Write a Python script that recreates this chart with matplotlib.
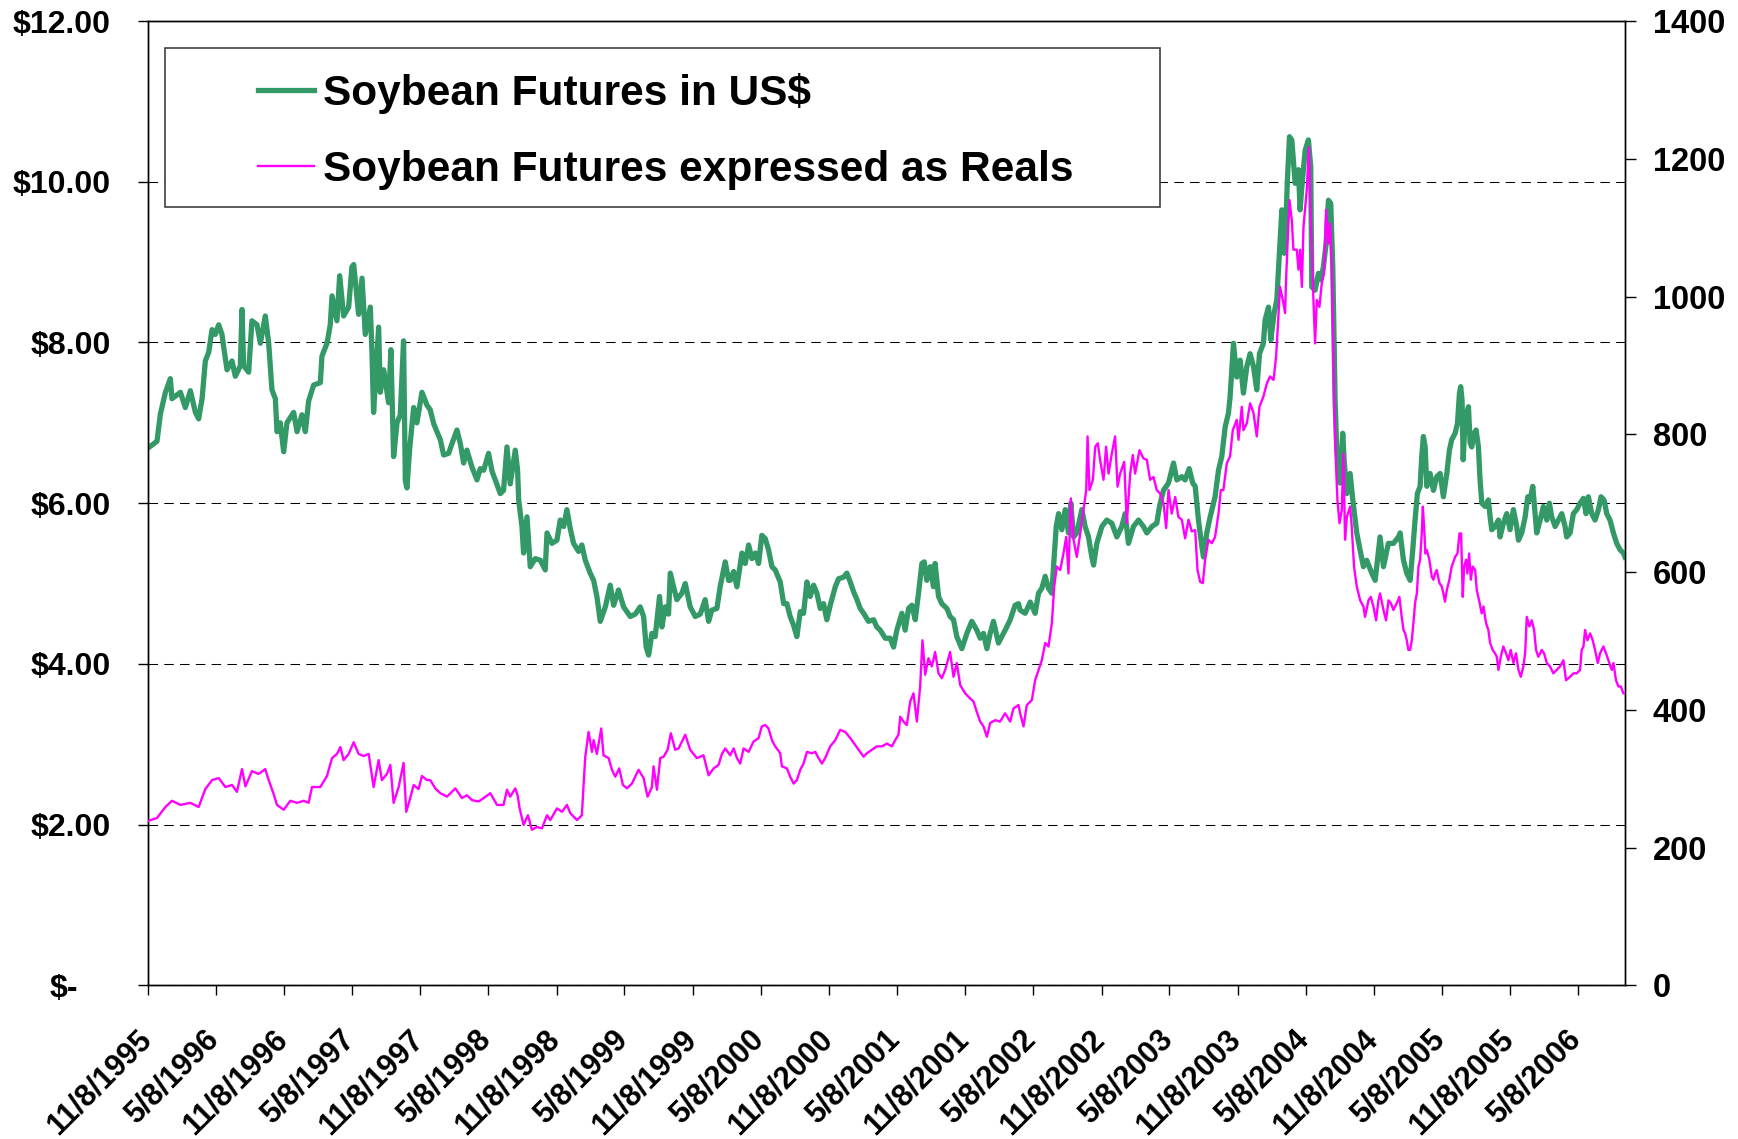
import matplotlib
matplotlib.use("Agg")
import matplotlib.pyplot as plt
from matplotlib.patches import Rectangle
from matplotlib.transforms import ScaledTranslation
from datetime import date

plt.rcParams['font.family'] = ['Liberation Sans', 'DejaVu Sans']
plt.rcParams['font.weight'] = 'bold'

# ---------------- data (decimal years) ----------------
usd_year = [
    1995.855, 1995.918, 1995.943, 1995.980, 1996.016, 1996.028, 1996.090, 1996.126, 1996.163, 1996.200,
    1996.224, 1996.249, 1996.273, 1996.298, 1996.322, 1996.346, 1996.371, 1996.395, 1996.408, 1996.432,
    1996.469, 1996.493, 1996.530, 1996.542, 1996.554, 1996.591, 1996.615, 1996.652, 1996.677, 1996.713,
    1996.738, 1996.762, 1996.787, 1996.799, 1996.823, 1996.848, 1996.872, 1996.921, 1996.946, 1996.982,
    1997.007, 1997.031, 1997.068, 1997.117, 1997.129, 1997.166, 1997.190, 1997.203, 1997.239, 1997.259,
    1997.288, 1997.325, 1997.349, 1997.362, 1997.398, 1997.423, 1997.447, 1997.484, 1997.496, 1997.508,
    1997.545, 1997.557, 1997.582, 1997.618, 1997.635, 1997.655, 1997.680, 1997.704, 1997.728, 1997.741,
    1997.753, 1997.772, 1997.802, 1997.826, 1997.863, 1997.900,
    1997.924, 1997.949, 1997.973, 1997.998, 1998.022, 1998.059, 1998.083, 1998.120, 1998.145, 1998.169,
    1998.193, 1998.230, 1998.267, 1998.291, 1998.316, 1998.352, 1998.377, 1998.414, 1998.438, 1998.462,
    1998.487, 1998.511, 1998.548, 1998.565, 1998.573, 1998.597, 1998.609, 1998.634, 1998.658, 1998.695,
    1998.732, 1998.768, 1998.781, 1998.817, 1998.854, 1998.878, 1998.903, 1998.927, 1998.952, 1998.976,
    1999.013, 1999.037, 1999.062, 1999.098, 1999.123, 1999.147, 1999.172, 1999.209, 1999.245, 1999.270,
    1999.306, 1999.343, 1999.392, 1999.429, 1999.465, 1999.490, 1999.509, 1999.527, 1999.551, 1999.575,
    1999.607, 1999.624, 1999.649, 1999.673, 1999.686, 1999.710, 1999.734, 1999.771, 1999.796, 1999.832,
    1999.869, 1999.906, 1999.942, 1999.967, 1999.991, 2000.028, 2000.052, 2000.089, 2000.114,
    2000.126, 2000.151, 2000.175, 2000.212, 2000.236, 2000.261, 2000.285, 2000.310, 2000.334, 2000.358,
    2000.383, 2000.407, 2000.432, 2000.456, 2000.493, 2000.518, 2000.542, 2000.566, 2000.591, 2000.615,
    2000.640, 2000.664, 2000.689, 2000.713, 2000.738, 2000.762, 2000.787, 2000.811, 2000.835, 2000.860,
    2000.897, 2000.921, 2000.958, 2000.982, 2001.007, 2001.031, 2001.056, 2001.080, 2001.105, 2001.141,
    2001.178, 2001.202, 2001.227, 2001.264, 2001.300, 2001.325, 2001.349, 2001.386, 2001.410, 2001.435,
    2001.459, 2001.484, 2001.508, 2001.533, 2001.550, 2001.569, 2001.594, 2001.618, 2001.630, 2001.655,
    2001.679, 2001.716, 2001.740, 2001.765, 2001.789, 2001.826, 2001.863, 2001.899, 2001.936, 2001.961,
    2001.985, 2002.010, 2002.034, 2002.058, 2002.095, 2002.132, 2002.156, 2002.181, 2002.217, 2002.242,
    2002.254, 2002.291, 2002.328, 2002.364, 2002.389, 2002.413, 2002.438, 2002.462, 2002.487, 2002.499,
    2002.519, 2002.536, 2002.560, 2002.585, 2002.609, 2002.626, 2002.646, 2002.670, 2002.707, 2002.731,
    2002.756, 2002.780, 2002.793, 2002.817, 2002.854, 2002.890, 2002.927, 2002.964, 2003.000, 2003.025,
    2003.049, 2003.086, 2003.123, 2003.159, 2003.184, 2003.221, 2003.257, 2003.277, 2003.306, 2003.343,
    2003.380, 2003.404, 2003.441, 2003.465, 2003.495, 2003.521, 2003.539, 2003.563, 2003.588, 2003.600,
    2003.624, 2003.649, 2003.685, 2003.710, 2003.734, 2003.759, 2003.783, 2003.795,
    2003.820, 2003.844, 2003.869, 2003.893, 2003.918, 2003.942, 2003.967, 2003.991, 2004.011, 2004.040,
    2004.052, 2004.077, 2004.094, 2004.118, 2004.138, 2004.150, 2004.162, 2004.175, 2004.192, 2004.206,
    2004.216, 2004.231, 2004.248, 2004.273, 2004.297, 2004.309, 2004.322, 2004.346, 2004.370, 2004.387,
    2004.395, 2004.419, 2004.444, 2004.461, 2004.480, 2004.500, 2004.517, 2004.534, 2004.549, 2004.566,
    2004.578, 2004.603, 2004.622, 2004.632, 2004.652, 2004.676, 2004.696, 2004.725, 2004.749, 2004.774,
    2004.798, 2004.835, 2004.860, 2004.896, 2004.921, 2004.957, 2004.994, 2005.031,
    2005.043, 2005.068, 2005.092, 2005.117, 2005.136, 2005.153, 2005.170, 2005.190, 2005.202, 2005.214,
    2005.227, 2005.239, 2005.263, 2005.288, 2005.312, 2005.337, 2005.361, 2005.386, 2005.405, 2005.422,
    2005.447, 2005.464, 2005.479, 2005.488, 2005.498, 2005.506, 2005.520, 2005.545, 2005.557, 2005.569,
    2005.586, 2005.601, 2005.618, 2005.630, 2005.643, 2005.667, 2005.691, 2005.704, 2005.716, 2005.740,
    2005.765, 2005.777, 2005.801, 2005.826, 2005.850, 2005.875, 2005.899, 2005.912, 2005.936, 2005.961,
    2005.980, 2005.997, 2006.017, 2006.034, 2006.046, 2006.071, 2006.095, 2006.120, 2006.139, 2006.156,
    2006.181, 2006.205, 2006.230, 2006.254, 2006.266, 2006.291, 2006.315, 2006.340, 2006.364, 2006.389,
    2006.408, 2006.425, 2006.450, 2006.474, 2006.499, 2006.518, 2006.540, 2006.560, 2006.584, 2006.609,
    2006.633, 2006.658, 2006.682, 2006.694,
]
usd_price = [
    6.69, 6.77, 7.11, 7.38, 7.55, 7.30, 7.38, 7.19, 7.40, 7.13,
    7.05, 7.30, 7.77, 7.88, 8.16, 8.10, 8.22, 8.10, 7.94, 7.66,
    7.77, 7.58, 7.71, 8.41, 7.71, 7.63, 8.27, 8.22, 7.99, 8.33,
    7.99, 7.41, 7.30, 6.89, 7.00, 6.64, 7.00, 7.13, 6.89, 7.10,
    6.89, 7.27, 7.47, 7.50, 7.83, 7.99, 8.22, 8.58, 8.27, 8.83,
    8.33, 8.44, 8.94, 8.97, 8.35, 8.80, 8.10, 8.44, 7.88, 7.13,
    8.19, 7.38, 7.66, 7.25, 7.91, 6.58, 7.00, 7.10, 8.02, 6.28,
    6.19, 6.66, 7.19, 7.00, 7.38, 7.22,
    7.16, 6.99, 6.89, 6.79, 6.60, 6.62, 6.74, 6.91, 6.74, 6.50,
    6.66, 6.45, 6.29, 6.43, 6.41, 6.62, 6.40, 6.23, 6.12, 6.16,
    6.70, 6.24, 6.66, 6.41, 6.04, 5.71, 5.38, 5.83, 5.21, 5.31,
    5.29, 5.17, 5.63, 5.50, 5.54, 5.79, 5.71, 5.92, 5.68, 5.50,
    5.40, 5.48, 5.29, 5.13, 5.04, 4.84, 4.53, 4.71, 4.98, 4.73,
    4.92, 4.71, 4.59, 4.62, 4.71, 4.59, 4.21, 4.11, 4.38, 4.34,
    4.84, 4.46, 4.71, 4.62, 5.13, 4.96, 4.80, 4.88, 5.00, 4.71,
    4.59, 4.62, 4.80, 4.53, 4.67, 4.69, 4.96, 5.27, 5.04,
    5.04, 5.15, 4.96, 5.38, 5.25, 5.48, 5.31, 5.38, 5.25, 5.60,
    5.56, 5.42, 5.21, 5.17, 5.02, 4.75, 4.75, 4.59, 4.48, 4.34,
    4.65, 4.63, 5.02, 4.84, 4.98, 4.88, 4.69, 4.75, 4.55, 4.73,
    4.96, 5.06, 5.08, 5.13, 5.02, 4.90, 4.80, 4.69, 4.63, 4.53,
    4.55, 4.46, 4.42, 4.32, 4.32, 4.21, 4.42, 4.63, 4.42, 4.69,
    4.73, 4.55, 4.88, 5.25, 5.27, 5.04, 5.21, 4.96, 5.25, 4.84,
    4.75, 4.69, 4.59, 4.55, 4.34, 4.19, 4.38, 4.53, 4.42, 4.32,
    4.38, 4.19, 4.38, 4.53, 4.26, 4.38, 4.46, 4.55, 4.73, 4.75,
    4.67, 4.63, 4.77, 4.63, 4.88, 4.94, 5.09, 4.94, 4.88, 5.21,
    5.71, 5.87, 5.67, 5.92, 5.63, 6.00, 5.58, 5.63, 5.92, 5.71,
    5.58, 5.33, 5.23, 5.50, 5.71, 5.79, 5.75, 5.58, 5.71, 5.87,
    5.50, 5.71, 5.79, 5.71, 5.63, 5.71, 5.75, 5.96, 6.16, 6.25,
    6.50, 6.29, 6.33, 6.29, 6.43, 6.25, 6.21, 5.79, 5.46, 5.33,
    5.63, 5.83, 6.08, 6.41, 6.58, 6.95, 7.12, 7.32,
    7.99, 7.57, 7.78, 7.37, 7.70, 7.86, 7.70, 7.41, 7.86, 7.99,
    8.28, 8.44, 8.03, 8.36, 8.53, 8.90, 9.27, 9.65, 9.11, 9.56,
    10.02, 10.56, 10.52, 9.98, 10.15, 9.65, 9.94, 10.39, 10.52, 10.19,
    8.69, 8.65, 8.86, 8.78, 8.94, 9.23, 9.77, 9.73, 8.94, 7.28,
    6.66, 6.25, 6.87, 6.54, 6.12, 6.37, 6.04, 5.63, 5.42, 5.21,
    5.29, 5.13, 5.04, 5.58, 5.21, 5.50, 5.50, 5.58,
    5.63, 5.29, 5.13, 5.04, 5.42, 5.79, 6.12, 6.21, 6.58, 6.83,
    6.70, 6.21, 6.37, 6.16, 6.33, 6.37, 6.08, 6.37, 6.66, 6.79,
    6.87, 6.99, 7.37, 7.45, 7.28, 6.54, 7.03, 7.20, 6.75, 6.70,
    6.87, 6.91, 6.70, 6.29, 6.00, 5.96, 6.04, 5.83, 5.67, 5.71,
    5.79, 5.58, 5.75, 5.87, 5.67, 5.92, 5.71, 5.54, 5.63, 5.83,
    6.08, 6.04, 6.21, 5.87, 5.63, 5.79, 5.96, 5.79, 6.00, 5.83,
    5.71, 5.79, 5.87, 5.71, 5.58, 5.63, 5.87, 5.92, 6.00, 6.06,
    5.87, 6.08, 5.87, 5.79, 5.92, 6.08, 6.04, 5.87, 5.79, 5.63,
    5.50, 5.42, 5.38, 5.33,
]

brl_year = [
    1995.855, 1995.918, 1995.980, 1996.028, 1996.090, 1996.163, 1996.224, 1996.273, 1996.322, 1996.371,
    1996.420, 1996.469, 1996.505, 1996.542, 1996.567, 1996.615, 1996.664, 1996.713, 1996.738, 1996.774,
    1996.799, 1996.848, 1996.897, 1996.946, 1996.995, 1997.031, 1997.056, 1997.117, 1997.166, 1997.203,
    1997.239, 1997.264, 1997.288, 1997.325, 1997.362, 1997.398, 1997.435, 1997.472, 1997.508, 1997.545,
    1997.569, 1997.606, 1997.631, 1997.655, 1997.692, 1997.728, 1997.748, 1997.777, 1997.802, 1997.838,
    1997.863, 1997.900,
    1997.924, 1997.961, 1997.998, 1998.047, 1998.108, 1998.157, 1998.193, 1998.230, 1998.279, 1998.316,
    1998.365, 1998.414, 1998.462, 1998.487, 1998.511, 1998.548, 1998.565, 1998.580, 1998.609, 1998.641,
    1998.670, 1998.707, 1998.744, 1998.781, 1998.805, 1998.854, 1998.891, 1998.927, 1998.952, 1999.001,
    1999.037, 1999.050, 1999.062, 1999.086, 1999.111, 1999.123, 1999.147, 1999.179, 1999.196, 1999.233,
    1999.258, 1999.282, 1999.311, 1999.338, 1999.368, 1999.404, 1999.453, 1999.490, 1999.519, 1999.551,
    1999.563, 1999.588, 1999.612, 1999.637, 1999.666, 1999.690, 1999.722, 1999.747, 1999.796, 1999.832,
    1999.881, 1999.930, 1999.967, 2000.004, 2000.040, 2000.065, 2000.089, 2000.126,
    2000.151, 2000.175, 2000.199, 2000.224, 2000.261, 2000.297, 2000.334, 2000.358, 2000.383, 2000.407,
    2000.432, 2000.456, 2000.493, 2000.505, 2000.542, 2000.566, 2000.591, 2000.615, 2000.640, 2000.664,
    2000.689, 2000.725, 2000.750, 2000.774, 2000.799, 2000.823, 2000.860, 2000.897, 2000.933, 2000.970,
    2001.007, 2001.043, 2001.080, 2001.105, 2001.129, 2001.166, 2001.202, 2001.239, 2001.276, 2001.313,
    2001.337, 2001.361, 2001.374, 2001.398, 2001.422, 2001.447, 2001.471, 2001.496, 2001.520, 2001.537,
    2001.557, 2001.581, 2001.606, 2001.630, 2001.655, 2001.679, 2001.704, 2001.740, 2001.765, 2001.789,
    2001.814, 2001.850, 2001.875, 2001.912, 2001.936, 2001.961, 2001.985, 2002.010, 2002.034, 2002.071,
    2002.107, 2002.144, 2002.181, 2002.205, 2002.242,
    2002.254, 2002.279, 2002.303, 2002.340, 2002.364, 2002.389, 2002.413, 2002.438, 2002.462, 2002.487,
    2002.504, 2002.523, 2002.548, 2002.572, 2002.592, 2002.609, 2002.626, 2002.646, 2002.670, 2002.695,
    2002.719, 2002.739, 2002.749, 2002.763, 2002.788, 2002.805, 2002.824, 2002.841, 2002.866, 2002.885,
    2002.903, 2002.927, 2002.951, 2002.969, 2002.988, 2003.018, 2003.037, 2003.062, 2003.081, 2003.098,
    2003.130, 2003.159, 2003.184, 2003.208, 2003.233, 2003.257, 2003.282, 2003.306, 2003.326, 2003.343,
    2003.367, 2003.392, 2003.416, 2003.441, 2003.465, 2003.490, 2003.514, 2003.539, 2003.556, 2003.575,
    2003.595, 2003.612, 2003.636, 2003.661, 2003.685, 2003.710, 2003.727, 2003.746, 2003.771, 2003.795,
    2003.815,
    2003.844, 2003.857, 2003.881, 2003.893, 2003.918, 2003.942, 2003.967, 2003.991, 2004.011, 2004.040,
    2004.065, 2004.089, 2004.114, 2004.133, 2004.150, 2004.162, 2004.182, 2004.199, 2004.206, 2004.216,
    2004.231, 2004.248, 2004.260, 2004.285, 2004.297, 2004.309, 2004.322, 2004.334, 2004.358, 2004.373,
    2004.383, 2004.407, 2004.419, 2004.432, 2004.451, 2004.468, 2004.485, 2004.500, 2004.517, 2004.529,
    2004.542, 2004.559, 2004.573, 2004.583, 2004.598, 2004.615, 2004.627, 2004.639, 2004.652, 2004.676,
    2004.688, 2004.705,
    2004.725, 2004.750, 2004.774, 2004.786, 2004.811, 2004.828, 2004.847, 2004.867, 2004.884, 2004.896,
    2004.921, 2004.940, 2004.958, 2004.975, 2004.994, 2005.019, 2005.038,
    2005.055, 2005.068, 2005.080, 2005.092, 2005.104, 2005.117, 2005.129, 2005.141, 2005.153, 2005.166,
    2005.178, 2005.190, 2005.202, 2005.210, 2005.219, 2005.229, 2005.239, 2005.258, 2005.276, 2005.288,
    2005.300, 2005.312, 2005.332, 2005.349, 2005.361, 2005.373, 2005.386, 2005.405, 2005.422, 2005.447,
    2005.464, 2005.479, 2005.491, 2005.503, 2005.513, 2005.528, 2005.537, 2005.550, 2005.562, 2005.576,
    2005.594, 2005.606, 2005.625, 2005.642, 2005.655, 2005.674, 2005.691, 2005.704, 2005.723, 2005.740,
    2005.753, 2005.765, 2005.782, 2005.801, 2005.821, 2005.838, 2005.855, 2005.875, 2005.894, 2005.912,
    2005.929, 2005.948, 2005.961, 2005.973, 2005.992, 2006.009, 2006.027, 2006.041, 2006.058, 2006.083,
    2006.100, 2006.120, 2006.144, 2006.168, 2006.193, 2006.217, 2006.242, 2006.261, 2006.291, 2006.315,
    2006.340, 2006.364, 2006.376, 2006.389, 2006.401, 2006.418, 2006.438, 2006.457, 2006.474, 2006.494,
    2006.511, 2006.535, 2006.555, 2006.572, 2006.597, 2006.609, 2006.628, 2006.645, 2006.663, 2006.682,
    2006.694,
]
brl_price = [
    239, 243, 259, 268, 262, 265, 259, 285, 298, 301,
    288, 291, 281, 314, 289, 311, 307, 314, 298, 278,
    262, 255, 268, 265, 268, 265, 288, 288, 304, 330,
    336, 346, 327, 336, 353, 336, 333, 336, 288, 327,
    298, 307, 320, 265, 288, 323, 252, 272, 291, 285,
    304, 298,
    298, 286, 279, 274, 286, 272, 276, 269, 267, 272,
    279, 262, 262, 284, 274, 286, 276, 257, 233, 247,
    226, 230, 228, 247, 240, 257, 252, 262, 250, 240,
    247, 293, 332, 368, 339, 356, 336, 373, 334, 330,
    313, 303, 315, 291, 286, 293, 313, 301, 274, 288,
    318, 284, 330, 332, 342, 366, 342, 344, 364, 342,
    330, 334, 305, 315, 320, 336, 344, 334,
    344, 330, 322, 344, 339, 354, 359, 376, 378, 373,
    356, 347, 337, 318, 315, 303, 293, 298, 313, 322,
    339, 337, 339, 330, 322, 330, 347, 356, 371, 368,
    359, 349, 339, 332, 337, 342, 347, 347, 351, 347,
    356, 364, 390, 383, 378, 412, 424, 383, 434, 501,
    451, 475, 463, 484, 453, 446, 458, 484, 448, 468,
    436, 424, 419, 412, 397, 383, 376, 361, 381, 385,
    383, 395, 383, 402, 407,
    395, 376, 407, 414, 443, 458, 472, 497, 492, 526,
    579, 608, 603, 627, 651, 598, 707, 647, 622, 656,
    690, 719, 797, 719, 734, 782, 787, 763, 734, 782,
    743, 772, 797, 724, 743, 760, 671, 743, 770, 743,
    777, 765, 763, 734, 738, 719, 714, 700, 664, 719,
    685, 709, 680, 676, 649, 676, 659, 661, 603, 586,
    584, 618, 647, 642, 651, 685, 719, 719, 758, 768,
    806,
    821, 792, 840, 806, 816, 845, 831, 797, 840, 855,
    874, 884, 879, 913, 971, 1014, 995, 976, 1024, 1072,
    1140, 1111, 1068, 1068, 1039, 1068, 1014, 1101, 1155, 1217,
    1140, 995, 932, 995, 985, 1019, 1034, 1126, 1077, 1106,
    1043, 850, 753, 705, 671, 690, 772, 647, 680, 695,
    666, 608,
    579, 559, 550, 535, 559, 564, 550, 530, 559, 569,
    545, 530, 559, 555, 545, 555, 564,
    535, 516, 511, 501, 487, 487, 501, 526, 555, 569,
    608, 618, 656, 695, 666, 627, 632, 618, 593, 589,
    598, 603, 584, 579, 569, 557, 574, 589, 608, 622,
    627, 656, 656, 564, 608, 618, 598, 627, 589, 608,
    603, 574, 557, 540, 550, 526, 516, 497, 487, 482,
    477, 458, 477, 492, 482, 472, 487, 468, 482, 458,
    448, 463, 482, 535, 521, 530, 516, 487, 477, 487,
    482, 468, 463, 453, 458, 463, 472, 443, 448, 453,
    453, 458, 487, 492, 516, 501, 511, 501, 487, 468,
    482, 492, 482, 472, 458, 468, 443, 434, 434, 424,
    424,
]

series_names = ["Soybean Futures in US$", "Soybean Futures expressed as Reals"]
x_tick_labels = ["11/8/1995", "5/8/1996", "11/8/1996", "5/8/1997", "11/8/1997", "5/8/1998",
                 "11/8/1998", "5/8/1999", "11/8/1999", "5/8/2000", "11/8/2000", "5/8/2001",
                 "11/8/2001", "5/8/2002", "11/8/2002", "5/8/2003", "11/8/2003", "5/8/2004",
                 "11/8/2004", "5/8/2005", "11/8/2005", "5/8/2006"]
left_ticks = [0, 2, 4, 6, 8, 10, 12]
left_tick_labels = ["", "$2.00", "$4.00", "$6.00", "$8.00", "$10.00", "$12.00"]
zero_label = "$-"
right_ticks = [0, 200, 400, 600, 800, 1000, 1200, 1400]
right_tick_labels = [str(v) for v in right_ticks]


def decimal_year(s):
    m, d, y = map(int, s.split('/'))
    dt = date(y, m, d)
    start, end = date(y, 1, 1), date(y + 1, 1, 1)
    return y + (dt - start).days / (end - start).days


x_ticks = [decimal_year(s) for s in x_tick_labels]

# ---------------- figure ----------------
W, H = 1738, 1139
fig = plt.figure(figsize=(W / 100, H / 100), dpi=100, facecolor='white')
ax = fig.add_axes([148 / W, 1 - 985.4 / H, (1625 - 148) / W, (985.4 - 21) / H])
ax2 = ax.twinx()

GREEN = '#339966'
MAGENTA = '#FF00FF'

l1, = ax.plot(usd_year, usd_price, color=GREEN, lw=3.8, solid_joinstyle='round', zorder=3)
l2, = ax2.plot(brl_year, brl_price, color=MAGENTA, lw=1.7, zorder=3)

ax.set_xlim(min(x_ticks[0], usd_year[0]), usd_year[-1])
ax.set_ylim(0, 12)
ax2.set_ylim(0, 1400)

ax.set_axisbelow(True)
ax.grid(axis='y', color='black', lw=0.75, linestyle=(0, (9.1, 6.05)))
ax.grid(axis='x', visible=False)

ax.set_yticks(left_ticks, left_tick_labels)
ax.tick_params(axis='y', direction='out', length=7.2, width=1, pad=19.4, labelsize=23)
ax2.set_yticks(right_ticks, right_tick_labels)
ax2.tick_params(axis='y', direction='out', length=8, width=1, pad=12, labelsize=23.5)

ax.set_xticks(x_ticks, x_tick_labels, rotation=45, ha='right', va='top', rotation_mode='anchor')
ax.tick_params(axis='x', direction='out', length=7, width=1, pad=21, labelsize=22)
for lbl in ax.get_xticklabels():
    lbl.set_transform(lbl.get_transform() + ScaledTranslation(-12 / 100, 0, fig.dpi_scale_trans))

ax.annotate(zero_label, xy=(0, 0), xycoords=('axes fraction', 'data'), xytext=(-70, 0),
            textcoords='offset pixels', ha='right', va='center_baseline', fontsize=23,
            fontweight='bold')

for a in (ax, ax2):
    for sp in a.spines.values():
        sp.set_color('black')
        sp.set_linewidth(1.0)

# legend with a wide white frame
fig.add_artist(Rectangle((165 / W, 1 - 207 / H), 995 / W, 159 / H, transform=fig.transFigure,
                         facecolor='white', edgecolor='#404040', lw=1.2, zorder=4))
fig.legend([l1, l2], series_names, loc='upper left', bbox_to_anchor=(258 / W, 1 - 73 / H),
           bbox_transform=fig.transFigure, frameon=False, borderpad=0, borderaxespad=0,
           handlelength=1.33, handletextpad=0.2, labelspacing=0.85,
           prop={'size': 30.5, 'weight': 'bold'}).set_zorder(5)

fig.savefig('out.png', dpi=100, facecolor='white')
